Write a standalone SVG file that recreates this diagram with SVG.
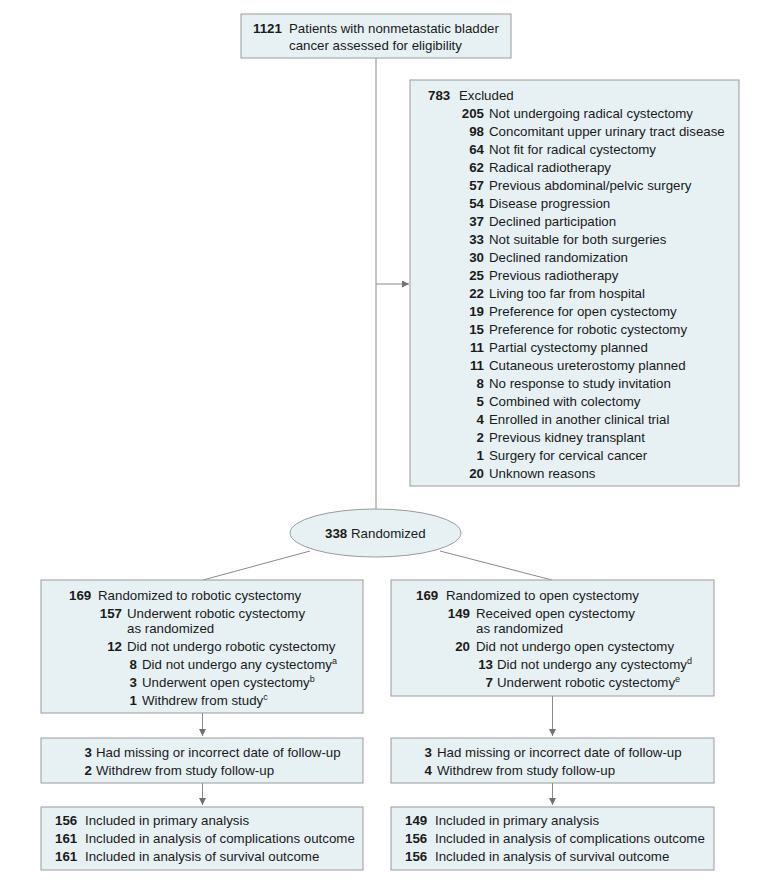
<svg xmlns="http://www.w3.org/2000/svg" width="780" height="883" viewBox="0 0 780 883">
<defs>
<marker id="ah" viewBox="0 0 10 10" refX="10" refY="5" markerWidth="7" markerHeight="7" markerUnits="userSpaceOnUse" orient="auto">
<path d="M0,0 L10,5 L0,10 z" fill="#707070"/>
</marker>
<style>
.box{fill:#e7f1f4;stroke:#9a9a9a;stroke-width:1}
.ln{fill:none;stroke:#8a8a8a;stroke-width:1}
text{font-family:"Liberation Sans",Arial,sans-serif;font-size:13.3px;fill:#1a1a1a}
.b{font-weight:bold}
.r{text-anchor:end}
.sup{font-size:9px}
</style>
</defs>
<rect width="780" height="883" fill="#ffffff"/>
<g id="connectors">
<line class="ln" x1="376" y1="58" x2="376" y2="509"/>
<line class="ln" x1="376" y1="284" x2="409" y2="284" marker-end="url(#ah)"/>
<line class="ln" x1="310" y1="551" x2="203" y2="580"/>
<line class="ln" x1="440" y1="551" x2="552" y2="580"/>
<line class="ln" x1="202.5" y1="713" x2="202.5" y2="736" marker-end="url(#ah)"/>
<line class="ln" x1="202.5" y1="783" x2="202.5" y2="805" marker-end="url(#ah)"/>
<line class="ln" x1="552.5" y1="696" x2="552.5" y2="736" marker-end="url(#ah)"/>
<line class="ln" x1="552.5" y1="783" x2="552.5" y2="805" marker-end="url(#ah)"/>
</g>
<g id="assessed">
<rect class="box" x="241" y="14" width="270" height="44"/>
<text x="253" y="33"><tspan class="b">1121</tspan></text>
<text x="289" y="33">Patients with nonmetastatic bladder</text>
<text x="289" y="50">cancer assessed for eligibility</text>
</g>
<g id="excluded">
<rect class="box" x="410" y="80" width="329" height="406"/>
<text class="b" x="428" y="100">783</text>
<text x="459" y="100">Excluded</text>
<g class="nums">
<text class="b r" x="484" y="118">205</text>
<text class="b r" x="484" y="136">98</text>
<text class="b r" x="484" y="154">64</text>
<text class="b r" x="484" y="172">62</text>
<text class="b r" x="484" y="190">57</text>
<text class="b r" x="484" y="208">54</text>
<text class="b r" x="484" y="226">37</text>
<text class="b r" x="484" y="244">33</text>
<text class="b r" x="484" y="262">30</text>
<text class="b r" x="484" y="280">25</text>
<text class="b r" x="484" y="298">22</text>
<text class="b r" x="484" y="316">19</text>
<text class="b r" x="484" y="334">15</text>
<text class="b r" x="484" y="352">11</text>
<text class="b r" x="484" y="370">11</text>
<text class="b r" x="484" y="388">8</text>
<text class="b r" x="484" y="406">5</text>
<text class="b r" x="484" y="424">4</text>
<text class="b r" x="484" y="442">2</text>
<text class="b r" x="484" y="460">1</text>
<text class="b r" x="484" y="478">20</text>
</g>
<text x="489" y="118">Not undergoing radical cystectomy</text>
<text x="489" y="136">Concomitant upper urinary tract disease</text>
<text x="489" y="154">Not fit for radical cystectomy</text>
<text x="489" y="172">Radical radiotherapy</text>
<text x="489" y="190">Previous abdominal/pelvic surgery</text>
<text x="489" y="208">Disease progression</text>
<text x="489" y="226">Declined participation</text>
<text x="489" y="244">Not suitable for both surgeries</text>
<text x="489" y="262">Declined randomization</text>
<text x="489" y="280">Previous radiotherapy</text>
<text x="489" y="298">Living too far from hospital</text>
<text x="489" y="316">Preference for open cystectomy</text>
<text x="489" y="334">Preference for robotic cystectomy</text>
<text x="489" y="352">Partial cystectomy planned</text>
<text x="489" y="370">Cutaneous ureterostomy planned</text>
<text x="489" y="388">No response to study invitation</text>
<text x="489" y="406">Combined with colectomy</text>
<text x="489" y="424">Enrolled in another clinical trial</text>
<text x="489" y="442">Previous kidney transplant</text>
<text x="489" y="460">Surgery for cervical cancer</text>
<text x="489" y="478">Unknown reasons</text>
</g>
<g id="randomized">
<ellipse class="box" cx="375.5" cy="533" rx="85.5" ry="24"/>
<text class="b" x="325" y="538">338</text>
<text x="351" y="538">Randomized</text>
</g>
<g id="robotic">
<rect class="box" x="41" y="580" width="322" height="133"/>
<text class="b" x="69" y="600">169</text>
<text x="98" y="600">Randomized to robotic cystectomy</text>
<text class="b r" x="122" y="618">157</text>
<text x="127" y="618">Underwent robotic cystectomy</text>
<text x="127" y="633">as randomized</text>
<text class="b r" x="122" y="651">12</text>
<text x="127" y="651">Did not undergo robotic cystectomy</text>
<text class="b r" x="137" y="669">8</text>
<text x="142" y="669">Did not undergo any cystectomy<tspan class="sup" dy="-5">a</tspan></text>
<text class="b r" x="137" y="687">3</text>
<text x="142" y="687">Underwent open cystectomy<tspan class="sup" dy="-5">b</tspan></text>
<text class="b r" x="137" y="705">1</text>
<text x="142" y="705">Withdrew from study<tspan class="sup" dy="-5">c</tspan></text>
</g>
<g id="open">
<rect class="box" x="391" y="580" width="323" height="116"/>
<text class="b" x="416" y="600">169</text>
<text x="446" y="600">Randomized to open cystectomy</text>
<text class="b r" x="470" y="618">149</text>
<text x="476" y="618">Received open cystectomy</text>
<text x="476" y="633">as randomized</text>
<text class="b r" x="470" y="651">20</text>
<text x="476" y="651">Did not undergo open cystectomy</text>
<text class="b r" x="493" y="669">13</text>
<text x="497" y="669">Did not undergo any cystectomy<tspan class="sup" dy="-5">d</tspan></text>
<text class="b r" x="493" y="687">7</text>
<text x="497" y="687">Underwent robotic cystectomy<tspan class="sup" dy="-5">e</tspan></text>
</g>
<g id="robotic-followup">
<rect class="box" x="41" y="738" width="322" height="45"/>
<text class="b r" x="92" y="757">3</text>
<text x="96" y="757">Had missing or incorrect date of follow-up</text>
<text class="b r" x="92" y="775">2</text>
<text x="96" y="775">Withdrew from study follow-up</text>
</g>
<g id="open-followup">
<rect class="box" x="391" y="738" width="323" height="45"/>
<text class="b r" x="432" y="757">3</text>
<text x="437" y="757">Had missing or incorrect date of follow-up</text>
<text class="b r" x="432" y="775">4</text>
<text x="437" y="775">Withdrew from study follow-up</text>
</g>
<g id="robotic-analysis">
<rect class="box" x="41" y="807" width="322" height="63"/>
<text class="b" x="55" y="825">156</text>
<text x="85" y="825">Included in primary analysis</text>
<text class="b" x="55" y="843">161</text>
<text x="85" y="843">Included in analysis of complications outcome</text>
<text class="b" x="55" y="861">161</text>
<text x="85" y="861">Included in analysis of survival outcome</text>
</g>
<g id="open-analysis">
<rect class="box" x="391" y="807" width="323" height="63"/>
<text class="b" x="405" y="825">149</text>
<text x="435" y="825">Included in primary analysis</text>
<text class="b" x="405" y="843">156</text>
<text x="435" y="843">Included in analysis of complications outcome</text>
<text class="b" x="405" y="861">156</text>
<text x="435" y="861">Included in analysis of survival outcome</text>
</g>
</svg>
